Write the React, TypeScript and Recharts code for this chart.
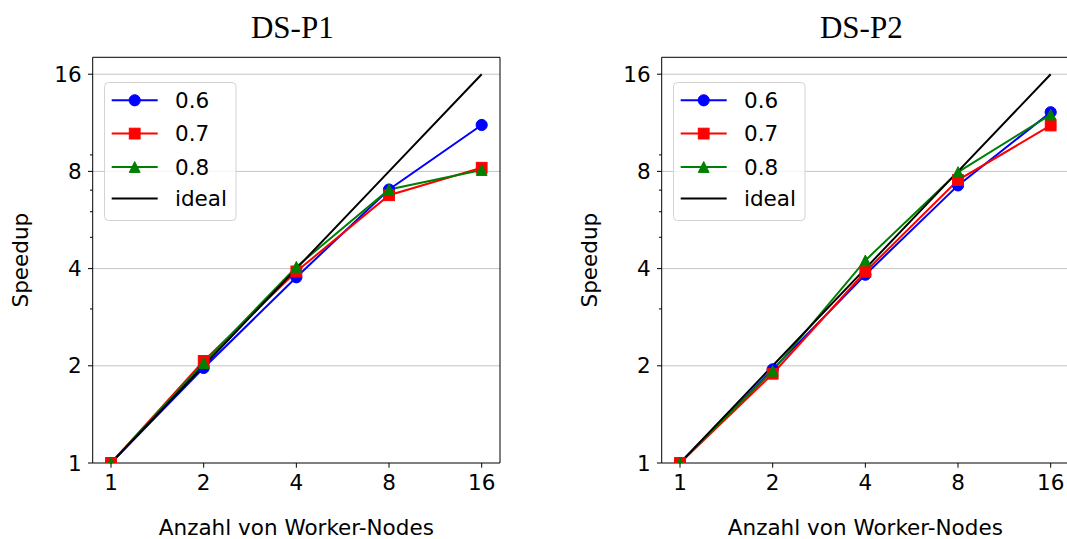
import React from "react";
import { LineChart, Line, XAxis, YAxis, CartesianGrid, Legend } from "recharts";

// Anzahl der Worker-Nodes (x-Achse)
const workers = [1, 2, 4, 8, 16];

// DS-P1 Speedup je Schwellwert
const p1Speedup06 = [1, 1.97, 3.76, 7.03, 11.14];
const p1Speedup07 = [1, 2.07, 3.92, 6.75, 8.21];
const p1Speedup08 = [1, 2.04, 4.05, 7.03, 8.08];

// DS-P2 Speedup je Schwellwert
const p2Speedup06 = [1, 1.95, 3.83, 7.24, 12.2];
const p2Speedup07 = [1, 1.89, 3.91, 7.52, 11.1];
const p2Speedup08 = [1, 1.93, 4.24, 7.96, 12.0];

const idealSpeedup = [1, 2, 4, 8, 16];

const xTicks = [1, 2, 4, 8, 16];
const yMajorTicks = [1, 2, 4, 8, 16];
const yMinorTicks = [3, 5, 6, 7, 9];
const gridValues = [2, 4, 8, 16];

const xDomain = [0.872, 18.35];
const yDomain = [1, 18.05];

const FONT = "DejaVu Sans";
const FS = 21.5;

const series = [
  { key: "s06", name: "0.6", color: "#0000ff", marker: "circle" },
  { key: "s07", name: "0.7", color: "#ff0000", marker: "square" },
  { key: "s08", name: "0.8", color: "#008000", marker: "triangle" },
  { key: "ideal", name: "ideal", color: "#000000", marker: "none" },
];

const buildRows = (s06: number[], s07: number[], s08: number[]) =>
  workers.map((w, i) => ({
    workers: w,
    s06: s06[i],
    s07: s07[i],
    s08: s08[i],
    ideal: idealSpeedup[i],
  }));

const p1Data = buildRows(p1Speedup06, p1Speedup07, p1Speedup08);
const p2Data = buildRows(p2Speedup06, p2Speedup07, p2Speedup08);

function Marker({ cx, cy, type, color }: { cx: number; cy: number; type: string; color: string }) {
  if (type === "circle") {
    return <circle cx={cx} cy={cy} r={5.6} fill={color} stroke={color} strokeWidth={1} />;
  }
  if (type === "square") {
    return <rect x={cx - 5.4} y={cy - 5.4} width={10.8} height={10.8} fill={color} stroke={color} strokeWidth={1} />;
  }
  if (type === "triangle") {
    return (
      <polygon
        points={`${cx},${cy - 5.4} ${cx - 5.4},${cy + 5.4} ${cx + 5.4},${cy + 5.4}`}
        fill={color}
        stroke={color}
        strokeWidth={1}
      />
    );
  }
  return null;
}

const TICK_Y = 5;
const PAD_Y = 6;

// y-Ticks: Haupt- und Nebenstriche wie bei matplotlib
function YTick(props: any) {
  const { x, y, payload } = props;
  const axisX = x + TICK_Y + PAD_Y;
  const major = yMajorTicks.includes(payload.value);
  return (
    <g>
      <line x1={axisX - (major ? 4.7 : 2.7)} x2={axisX} y1={y} y2={y} stroke="#000" strokeWidth={1} />
      {major && (
        <text x={x} y={y} textAnchor="end" dominantBaseline="central" fill="#000" fontSize={FS} fontFamily={FONT}>
          {payload.value}
        </text>
      )}
    </g>
  );
}

function LegendBox({ payload }: any) {
  const rowY = [18.3, 51.6, 85, 116.5];
  return (
    <svg width={133} height={140} style={{ display: "block" }}>
      <rect x={0.5} y={0.5} width={131.5} height={138} rx={4} fill="#ffffff" fillOpacity={0.8} stroke="#d3d3d3" />
      {(payload || []).map((item: any, i: number) => {
        const s = series.find((d) => d.key === item.dataKey) || series[i];
        const y = rowY[i];
        return (
          <g key={s.key}>
            <line x1={7.7} x2={53.7} y1={y} y2={y} stroke={s.color} strokeWidth={2} />
            <Marker cx={30.7} cy={y} type={s.marker} color={s.color} />
            <text x={71} y={y} dominantBaseline="central" fontSize={FS} fontFamily={FONT} fill="#000">
              {s.name}
            </text>
          </g>
        );
      })}
    </svg>
  );
}

function SpeedupPanel({ title, data, left }: { title: string; data: any[]; left: number }) {
  return (
    <div style={{ position: "absolute", left, top: 0 }}>
      <LineChart width={520} height={539} data={data} margin={{ top: 56.3, right: 19, bottom: 0, left: 0 }}>
        <CartesianGrid horizontal vertical={false} horizontalValues={gridValues} stroke="#c4c4c4" strokeWidth={1} />
        <XAxis
          dataKey="workers"
          type="number"
          scale="log"
          domain={xDomain}
          allowDataOverflow
          ticks={xTicks}
          interval={0}
          height={76}
          tickSize={4.7}
          tickMargin={7.5}
          axisLine={{ stroke: "#000", strokeWidth: 1 }}
          tickLine={{ stroke: "#000", strokeWidth: 1 }}
          tick={{ fill: "#000", fontSize: FS, fontFamily: FONT }}
          label={(p: any) => (
            <text
              x={p.viewBox.x + p.viewBox.width / 2}
              y={p.viewBox.y + 71.5}
              textAnchor="middle"
              fontSize={FS}
              fontFamily={FONT}
              fill="#000"
            >
              Anzahl von Worker-Nodes
            </text>
          )}
        />
        <XAxis
          xAxisId="top"
          orientation="top"
          dataKey="workers"
          type="number"
          scale="log"
          domain={xDomain}
          allowDataOverflow
          height={1}
          tick={false}
          tickLine={false}
          axisLine={{ stroke: "#000", strokeWidth: 1 }}
          label={(p: any) => (
            <text
              x={p.viewBox.x + p.viewBox.width / 2 - 4}
              y={37.7}
              textAnchor="middle"
              fontSize={31}
              fontFamily="Liberation Serif"
              fill="#000"
            >
              {title}
            </text>
          )}
        />
        <YAxis
          type="number"
          scale="log"
          domain={yDomain}
          allowDataOverflow
          ticks={[...yMajorTicks, ...yMinorTicks].sort((a, b) => a - b)}
          interval={0}
          width={92.7}
          tickSize={TICK_Y}
          tickMargin={PAD_Y}
          tickLine={false}
          axisLine={{ stroke: "#000", strokeWidth: 1 }}
          tick={<YTick />}
          label={(p: any) => {
            const cy = p.viewBox.y + p.viewBox.height / 2;
            return (
              <text
                x={28}
                y={cy}
                textAnchor="middle"
                transform={`rotate(-90, 28, ${cy})`}
                fontSize={FS}
                fontFamily={FONT}
                fill="#000"
              >
                Speedup
              </text>
            );
          }}
        />
        <YAxis
          yAxisId="right"
          orientation="right"
          type="number"
          scale="log"
          domain={yDomain}
          allowDataOverflow
          width={1}
          tick={false}
          tickLine={false}
          axisLine={{ stroke: "#000", strokeWidth: 1 }}
        />
        <Legend
          layout="vertical"
          align="center"
          verticalAlign="middle"
          wrapperStyle={{ left: 104, top: 81.7, width: 133, height: 140 }}
          content={<LegendBox />}
        />
        {series.map((s) => (
          <Line
            key={s.key}
            dataKey={s.key}
            name={s.name}
            type="linear"
            stroke={s.color}
            strokeWidth={2}
            isAnimationActive={false}
            activeDot={false}
            dot={
              s.marker === "none"
                ? false
                : (p: any) => <Marker key={`${s.key}-${p.index}`} cx={p.cx} cy={p.cy} type={s.marker} color={s.color} />
            }
          />
        ))}
      </LineChart>
    </div>
  );
}

export default function App() {
  return (
    <div
      style={{
        position: "absolute",
        left: 0,
        top: 0,
        width: 1067,
        height: 539,
        overflow: "hidden",
        background: "#ffffff",
      }}
    >
      <SpeedupPanel title="DS-P1" data={p1Data} left={0} />
      <SpeedupPanel title="DS-P2" data={p2Data} left={569} />
    </div>
  );
}
